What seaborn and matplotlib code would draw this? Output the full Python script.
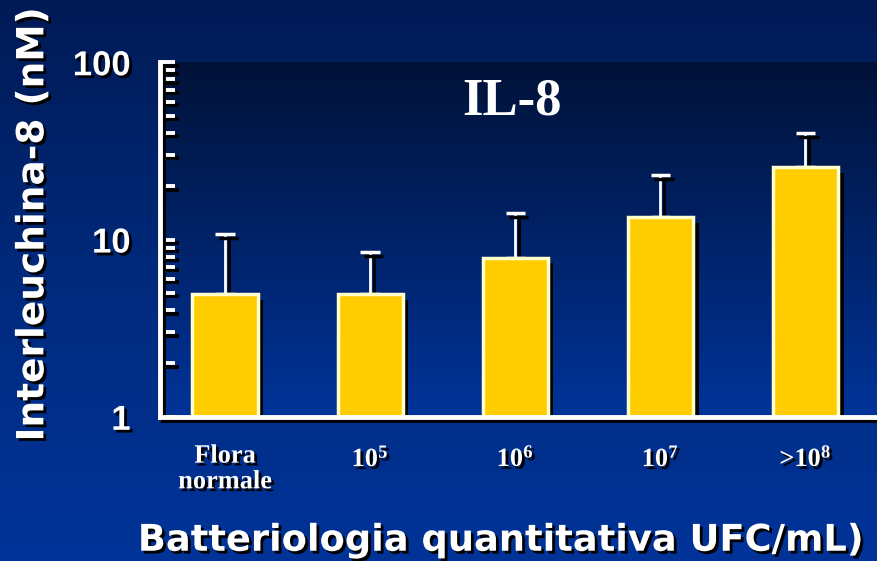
import numpy as np
import pandas as pd
import seaborn as sns
import matplotlib.pyplot as plt
import matplotlib.patheffects as pe
from matplotlib.colors import LinearSegmentedColormap

# Dati (scala log, nM)
categorie = ['Flora\nnormale', '10$^5$', '10$^6$', '10$^7$', '>10$^8$']
valori = [4.9, 4.9, 7.9, 13.4, 25.6]
errore_sup = [10.7, 8.5, 14.1, 23.1, 39.8]

df = pd.DataFrame({'gruppo': categorie, 'il8': valori})

sns.set_style('white')
plt.rcParams['mathtext.fontset'] = 'custom'
plt.rcParams['mathtext.rm'] = 'Liberation Serif:bold'
plt.rcParams['mathtext.bf'] = 'Liberation Serif:bold'
plt.rcParams['mathtext.it'] = 'Liberation Serif:bold'
plt.rcParams['mathtext.default'] = 'bf'

fig = plt.figure(figsize=(8.78, 5.61), dpi=100)

# sfondo sfumato della figura
sfumatura = np.linspace(0, 1, 256).reshape(-1, 1)
bg = fig.add_axes([0, 0, 1, 1], zorder=-10)
cmap_fig = LinearSegmentedColormap.from_list('fig', ['#003399', '#002a7c', '#001a55'])
bg.imshow(sfumatura, aspect='auto', cmap=cmap_fig, extent=[0, 1, 0, 1], origin='lower')
bg.set_axis_off()

ax = fig.add_axes([0.182, 0.257, 0.818, 0.632])
ax.patch.set_alpha(0)
cmap_ax = LinearSegmentedColormap.from_list('ax', ['#003399', '#001238'])
ax.imshow(sfumatura, aspect='auto', cmap=cmap_ax,
          extent=[0, 1, 0, 1], origin='lower', transform=ax.transAxes, zorder=0)

ombra_testo = [pe.withSimplePatchShadow(offset=(2, -2), shadow_rgbFace='black', alpha=1)]
ombra_linea = [pe.SimpleLineShadow(offset=(2.5, -2.5), shadow_color='black', alpha=1), pe.Normal()]

sns.barplot(data=df, x='gruppo', y='il8', color='#FFCC00', saturation=1, width=0.45,
            edgecolor='#FFFFCC', linewidth=2.5, ax=ax, zorder=3)
for p in ax.patches:
    p.set_path_effects([pe.SimplePatchShadow(offset=(4, -4), shadow_rgbFace='black', alpha=1), pe.Normal()])

x = np.arange(len(categorie))
err = np.array(errore_sup) - np.array(valori)
cont = ax.errorbar(x, valori, yerr=[np.zeros(len(x)), err], fmt='none', ecolor='white',
                   elinewidth=2, capsize=7, capthick=2.5, zorder=2)
for art in list(cont.lines[1]) + list(cont.lines[2]):
    art.set_path_effects(ombra_linea)

ax.set_yscale('log')
ax.set_ylim(1, 100)
ax.set_xlim(-0.45, 4.5)
ax.set_yticks([1, 10, 100])
ax.set_yticklabels(['1', '10', '100'])
ax.yaxis.set_minor_formatter(plt.NullFormatter())

for s in ['top', 'right']:
    ax.spines[s].set_visible(False)
for s in ['left', 'bottom']:
    ax.spines[s].set_color('white')
    ax.spines[s].set_linewidth(3.5)
    ax.spines[s].set_path_effects(ombra_linea)
    ax.spines[s].set_zorder(5)

ax.tick_params(axis='y', which='both', left=True, direction='in', length=11, width=2.8, color='white',
               labelcolor='white', labelsize=25, pad=21)
ax.tick_params(axis='x', length=0, labelcolor='white', pad=20)
for t in ax.yaxis.get_major_ticks() + ax.yaxis.get_minor_ticks():
    t.tick1line.set_path_effects(ombra_linea)
for lab in ax.get_yticklabels():
    lab.set_fontfamily('Liberation Sans')
    lab.set_fontweight('bold')
    lab.set_path_effects(ombra_testo)
for lab in ax.get_xticklabels():
    lab.set_fontfamily('Liberation Serif')
    lab.set_fontweight('bold')
    lab.set_fontsize(19)
    lab.set_linespacing(1.15)
    lab.set_path_effects(ombra_testo)

ax.set_xlabel('')
ax.set_ylabel('')
ax.text(0.49, 0.89, 'IL-8', transform=ax.transAxes, ha='center', va='center', color='white',
        fontsize=38, fontweight='bold', family='Liberation Serif', zorder=6)

fig.text(0.038, 0.6, 'Interleuchina-8 (nM)', rotation=90, ha='center', va='center', color='white',
         fontsize=27, fontweight='bold', family='DejaVu Sans', path_effects=ombra_testo)
fig.text(0.157, 0.037, 'Batteriologia quantitativa UFC/mL)', ha='left', va='center', color='white',
         fontsize=26.5, fontweight='bold', family='DejaVu Sans', path_effects=ombra_testo)
fig.text(0.022, -0.035, 'O', ha='left', va='center', color='white',
         fontsize=26, fontweight='bold', family='DejaVu Sans', path_effects=ombra_testo)

fig.savefig('out.png', dpi=100)
